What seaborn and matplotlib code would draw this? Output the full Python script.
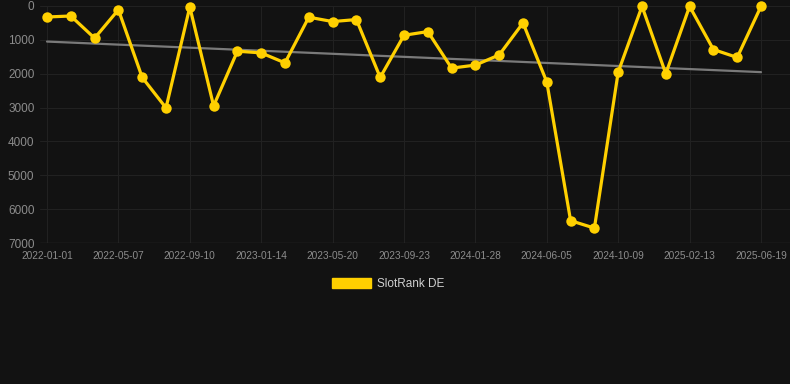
import numpy as np
import pandas as pd
import matplotlib
matplotlib.use("Agg")
import matplotlib.pyplot as plt
import seaborn as sns
from matplotlib.patches import Patch

dates = ["2022-01-01", "2022-02-12", "2022-03-26", "2022-05-07", "2022-06-18",
         "2022-07-30", "2022-09-10", "2022-10-22", "2022-12-03", "2023-01-14",
         "2023-02-25", "2023-04-08", "2023-05-20", "2023-07-01", "2023-08-12",
         "2023-09-23", "2023-11-04", "2023-12-16", "2024-01-28", "2024-03-10",
         "2024-04-21", "2024-06-05", "2024-07-17", "2024-08-28", "2024-10-09",
         "2024-11-20", "2025-01-01", "2025-02-13", "2025-03-27", "2025-05-08",
         "2025-06-19"]
ranks = [325, 295, 950, 110, 2110, 3010, 30, 2950, 1335, 1385,
         1680, 330, 460, 400, 2110, 865, 755, 1835, 1745, 1445,
         500, 2245, 6340, 6560, 1950, 10, 2000, 10, 1285, 1520, 10]
y_ticks = [0, 1000, 2000, 3000, 4000, 5000, 6000, 7000]
series_name = "SlotRank DE"

BG = "#121212"
YEL = "#FFD000"
GRID = "#212121"
TXT = "#8c8c8c"

sns.set_theme(style="dark")
plt.rcParams["font.family"] = ["Liberation Sans", "DejaVu Sans"]

idx = np.arange(len(dates))
df = pd.DataFrame({"idx": idx, "rank": ranks, "date": dates})

coef = np.polyfit(idx, ranks, 1)
df["trend"] = np.polyval(coef, idx)

fig = plt.figure(figsize=(7.9, 3.84), dpi=100, facecolor=BG)
ax = fig.add_axes([40 / 790, (384 - 243) / 384, 750 / 790, 237 / 384])
ax.set_facecolor(BG)

sns.lineplot(data=df, x="idx", y="trend", ax=ax, color="#7a7a7a", lw=1.6, zorder=2)
sns.lineplot(data=df, x="idx", y="rank", ax=ax, color=YEL, lw=2.3, marker="o",
             markersize=7.5, markeredgewidth=0, zorder=3, clip_on=False)

ax.set_xlim(-7 / 23.8, 30 + 29 / 23.8)
ax.set_ylim(7000, 0)
ax.set_yticks(y_ticks)
ax.set_yticklabels([str(v) for v in y_ticks])
tick_idx = idx[::3]
ax.set_xticks(tick_idx)
ax.set_xticklabels([dates[i] for i in tick_idx])

ax.grid(True, color=GRID, lw=0.8)
for s in ax.spines.values():
    s.set_visible(False)
ax.axhline(7000, color="#2c2c2c", lw=1, zorder=1)
ax.tick_params(axis="y", colors=TXT, labelsize=8.5, length=0, pad=4)
ax.tick_params(axis="x", colors=TXT, labelsize=7.3, length=0, pad=6)
ax.set_xlabel("")
ax.set_ylabel("")

handle = Patch(facecolor=YEL, edgecolor=YEL)
fig.legend([handle], [series_name], loc="center", bbox_to_anchor=(388 / 790, 1 - 284 / 384),
           frameon=False, fontsize=8.5, handlelength=3.3, handleheight=1.0,
           handletextpad=0.5, labelcolor="#d0d0d0")

fig.savefig("out.png", dpi=100, facecolor=BG)
